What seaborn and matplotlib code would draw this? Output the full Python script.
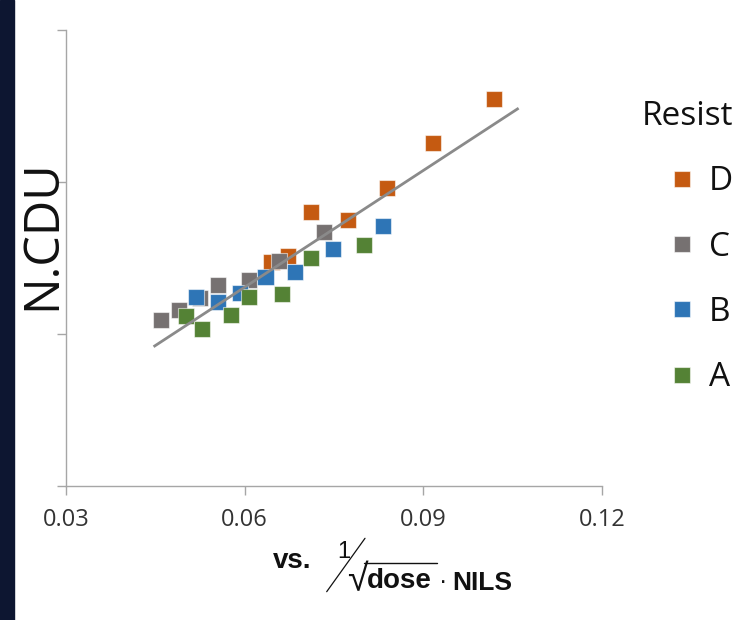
import numpy as np
import pandas as pd
import matplotlib
matplotlib.use('Agg')
import matplotlib.pyplot as plt
import seaborn as sns
from matplotlib.lines import Line2D
from matplotlib.patches import Rectangle

# ---------------- data ----------------
resists = ['D', 'C', 'B', 'A']
colors = ['#C55A11', '#767171', '#2E75B6', '#548235']

d_x = [0.1019, 0.0916, 0.0839, 0.0712, 0.0774, 0.0673, 0.0645]
d_y = [2.544, 2.259, 1.963, 1.801, 1.752, 1.515, 1.474]
c_x = [0.0733, 0.0658, 0.0608, 0.0555, 0.0525, 0.0490, 0.0460]
c_y = [1.673, 1.480, 1.355, 1.322, 1.235, 1.158, 1.092]
b_x = [0.0832, 0.0748, 0.0684, 0.0635, 0.0592, 0.0555, 0.0518]
b_y = [1.711, 1.557, 1.406, 1.373, 1.272, 1.213, 1.245]
a_x = [0.0800, 0.0712, 0.0663, 0.0607, 0.0577, 0.0501, 0.0529]
a_y = [1.584, 1.498, 1.263, 1.243, 1.127, 1.120, 1.035]

x_ticks = [0.03, 0.06, 0.09, 0.12]
x_tick_labels = ['0.03', '0.06', '0.09', '0.12']
y_ticks = [0, 1, 2, 3]

# linear trendline (slope, intercept) and its x-span
trend_slope = 25.6
trend_intercept = -0.228
trend_range = [0.0447, 0.1060]

series_x = {'D': d_x, 'C': c_x, 'B': b_x, 'A': a_x}
series_y = {'D': d_y, 'C': c_y, 'B': b_y, 'A': a_y}
rows = []
for r in resists:
    for xv, yv in zip(series_x[r], series_y[r]):
        rows.append({'x': xv, 'y': yv, 'Resist': r})
df = pd.DataFrame(rows)

# ---------------- style ----------------
sns.set_style('white')
plt.rcParams['font.family'] = ['Open Sans', 'DejaVu Sans']

W, H = 755, 620
fig = plt.figure(figsize=(W / 100, H / 100), dpi=100)
fig.patch.set_facecolor('white')

def fx(px):
    return px / W

def fy(py):
    return 1 - py / H

# dark strip at the left edge
fig.add_artist(Rectangle((0, 0), fx(14), 1, transform=fig.transFigure,
                         color='#0d1631', zorder=0))

ax = fig.add_axes([fx(66), fy(486), fx(602) - fx(66), fy(30) - fy(486)])
ax.set_facecolor('white')

sns.scatterplot(data=df, x='x', y='y', hue='Resist', hue_order=resists,
                palette=colors, marker='s', s=135,
                edgecolor=(1, 1, 1, 0.55), linewidth=0.8, ax=ax, legend=False)

tx = np.array(trend_range)
ax.plot(tx, trend_slope * tx + trend_intercept, color='#8a8a8a', lw=2.0,
        zorder=3, solid_capstyle='butt')

ax.set_xlim(x_ticks[0], x_ticks[-1])
ax.set_ylim(y_ticks[0], y_ticks[-1])
ax.set_xticks(x_ticks)
ax.set_xticklabels(x_tick_labels)
ax.set_yticks(y_ticks)
ax.set_yticklabels([])
ax.set_xlabel('')
ax.set_ylabel('')

for s in ['top', 'right']:
    ax.spines[s].set_visible(False)
for s in ['left', 'bottom']:
    ax.spines[s].set_color('#a6a6a6')
    ax.spines[s].set_linewidth(1.0)

ax.tick_params(axis='both', direction='out', length=6.5, width=1.0,
               color='#a6a6a6', left=True, bottom=True)
ax.tick_params(axis='x', labelsize=17, labelcolor='#333333', pad=9)

# y label
fig.text(fx(43), fy(235), 'N.CDU', rotation=90, fontsize=35,
         ha='center', va='center', color='#111111')

# legend
handles = [Line2D([], [], marker='s', linestyle='', color=c, markersize=12,
                  markeredgecolor=(1, 1, 1, 0.55), markeredgewidth=0.8)
           for c in colors]
leg = ax.legend(handles, resists, title='Resist', frameon=False,
                loc='upper right', bbox_to_anchor=(fx(733), fy(100)),
                bbox_transform=fig.transFigure, fontsize=24, title_fontsize=24,
                labelspacing=0.97, handlelength=0.8, handletextpad=0.40,
                borderpad=0, borderaxespad=0)
leg._legend_box.align = 'right'
for t in leg.get_texts():
    t.set_color('#111111')
leg.get_title().set_color('#111111')

# x label: vs. 1/(sqrt(dose) . NILS)
ink = '#111111'
lab = dict(color=ink, va='baseline', ha='left', family='Liberation Sans')
fig.text(fx(273), fy(568), 'vs.', fontsize=20, fontweight='bold', **lab)
fig.text(fx(337), fy(558), '1', fontsize=17, **lab)
fig.add_artist(Line2D([fx(326.7), fx(365)], [fy(591.7), fy(538.3)],
                      transform=fig.transFigure, color=ink, lw=0.9))
fig.text(fx(347), fy(591), '\u221a', fontsize=27, **lab)
fig.add_artist(Line2D([fx(364), fx(437)], [fy(562.5), fy(562.5)],
                      transform=fig.transFigure, color=ink, lw=1.0))
fig.text(fx(367), fy(588), 'dose', fontsize=20, fontweight='bold', **lab)
fig.text(fx(443), fy(589), '\u00b7', fontsize=18, color=ink, va='baseline',
         ha='center', family='Liberation Sans')
fig.text(fx(452), fy(590), 'NILS', fontsize=19, fontweight='bold', **lab)

fig.savefig('out.png', dpi=100, facecolor='white')
